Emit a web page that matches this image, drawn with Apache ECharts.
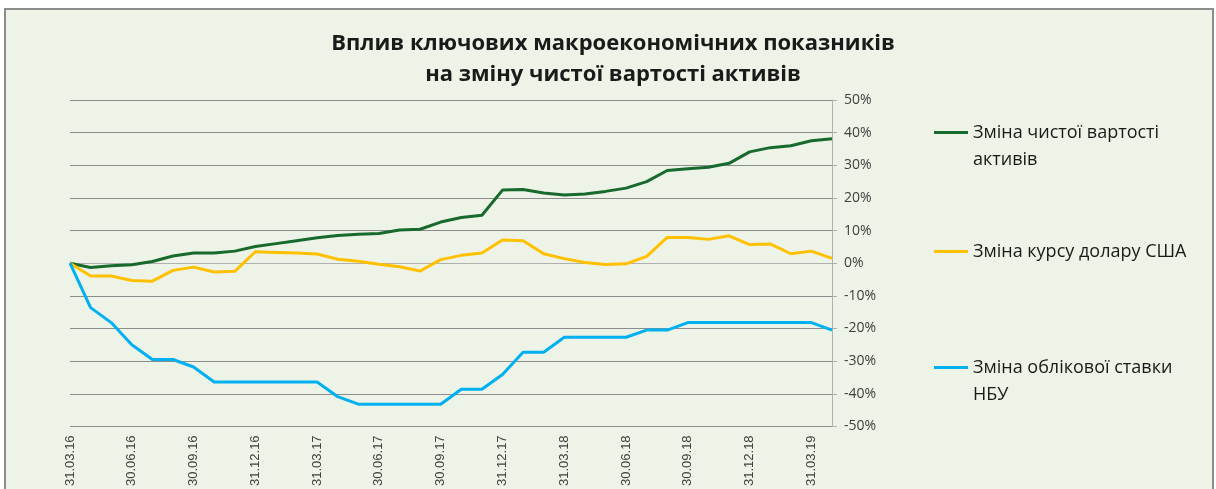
<!DOCTYPE html>
<html>
<head>
<meta charset="utf-8">
<script src="https://cdn.jsdelivr.net/npm/echarts@6/dist/echarts.min.js"></script>
<style>
html,body{margin:0;padding:0;background:#ffffff;}
#chart{width:1216px;height:489px;}
</style>
</head>
<body>
<div id="chart"></div>
<script>
const categories = ['31.03.16','30.04.16','31.05.16','30.06.16','31.07.16','31.08.16','30.09.16','31.10.16','30.11.16','31.12.16',
 '31.01.17','28.02.17','31.03.17','30.04.17','31.05.17','30.06.17','31.07.17','31.08.17','30.09.17','31.10.17','30.11.17','31.12.17',
 '31.01.18','28.02.18','31.03.18','30.04.18','31.05.18','30.06.18','31.07.18','31.08.18','30.09.18','31.10.18','30.11.18','31.12.18',
 '31.01.19','28.02.19','31.03.19','30.04.19'];
const navChange = [0,-1.3,-0.8,-0.5,0.5,2.2,3.1,3.1,3.7,5.1,6.0,6.9,7.8,8.5,8.9,9.1,10.2,10.4,12.6,14.0,14.7,22.4,22.6,21.5,20.9,21.2,22.0,23.0,25.0,28.4,28.9,29.4,30.6,34.1,35.4,36.0,37.5,38.1];
const usdChange = [0,-3.9,-3.9,-5.3,-5.5,-2.2,-1.2,-2.7,-2.5,3.5,3.3,3.1,2.8,1.2,0.6,-0.3,-1.1,-2.4,1.1,2.4,3.1,7.1,6.9,2.9,1.4,0.2,-0.4,-0.2,2.1,7.9,7.9,7.3,8.4,5.7,5.9,2.9,3.7,1.5];
const rateChange = [0,-13.6,-18.2,-25.0,-29.5,-29.5,-31.8,-36.4,-36.4,-36.4,-36.4,-36.4,-36.4,-40.9,-43.2,-43.2,-43.2,-43.2,-43.2,-38.6,-38.6,-34.1,-27.3,-27.3,-22.7,-22.7,-22.7,-22.7,-20.5,-20.5,-18.2,-18.2,-18.2,-18.2,-18.2,-18.2,-18.2,-20.5];
const seriesNames = ['Зміна чистої вартості активів','Зміна курсу долару США','Зміна облікової ставки НБУ'];
const legendLabels = ['Зміна чистої вартості\nактивів','Зміна курсу долару США','Зміна облікової ставки\nНБУ'];
const titleText = 'Вплив ключових макроекономічних показників\nна зміну чистої вартості активів';

const colors = ['#17692d','#ffc000','#00b0f0'];
const chart = echarts.init(document.getElementById('chart'));
const legendFont = {fontFamily:'Open Sans', fontSize:18, color:'#1a1a1a', lineHeight:27};
function mkLegend(i, top){
  const multi = legendLabels[i].indexOf('\n') >= 0;
  return {
    orient:'vertical', left:934, top:top, itemWidth:34, itemHeight:3, icon:'rect',
    data:[{name:seriesNames[i], itemStyle:{color:colors[i]}}],
    formatter: () => multi ? '\n' + legendLabels[i] : legendLabels[i],
    textStyle: legendFont, itemGap:0, padding:0
  };
}
chart.setOption({
  backgroundColor:'#ffffff',
  animation:false,
  graphic:[{type:'rect', left:4, top:8, shape:{width:1208, height:490}, style:{fill:'#edf3e6', stroke:'#8c8c8c', lineWidth:2}, z:-10}],
  title:{text:titleText, left:608, top:23, textAlign:'center',
    textStyle:{fontFamily:'Open Sans', fontWeight:'bold', fontSize:22, color:'#1a1a1a', lineHeight:31}},
  legend:[mkLegend(0,92), mkLegend(1,238), mkLegend(2,327)],
  grid:{left:70, right:384, top:100, bottom:62},
  xAxis:{type:'category', data:categories, boundaryGap:false,
    axisLine:{lineStyle:{color:'#b0b0b0', width:1}},
    axisTick:{show:false},
    axisLabel:{rotate:90, interval:2, fontFamily:'Liberation Sans', fontSize:13, color:'#404040', margin:9}},
  yAxis:{type:'value', position:'right', min:-50, max:50, interval:10,
    axisLine:{show:true, lineStyle:{color:'#b0b0b0'}},
    axisTick:{show:true, length:5, lineStyle:{color:'#b0b0b0'}},
    splitLine:{lineStyle:{color:'#8c8c8c', width:1}},
    axisLabel:{formatter:'{value}%', fontFamily:'Open Sans', fontSize:14, color:'#404040', margin:12}},
  series:[
    {name:seriesNames[0], type:'line', data:navChange, symbol:'none', lineStyle:{color:colors[0], width:3}, itemStyle:{color:colors[0]}},
    {name:seriesNames[1], type:'line', data:usdChange, symbol:'none', lineStyle:{color:colors[1], width:3}, itemStyle:{color:colors[1]}},
    {name:seriesNames[2], type:'line', data:rateChange, symbol:'none', lineStyle:{color:colors[2], width:3}, itemStyle:{color:colors[2]}}
  ]
});
</script>
</body>
</html>
